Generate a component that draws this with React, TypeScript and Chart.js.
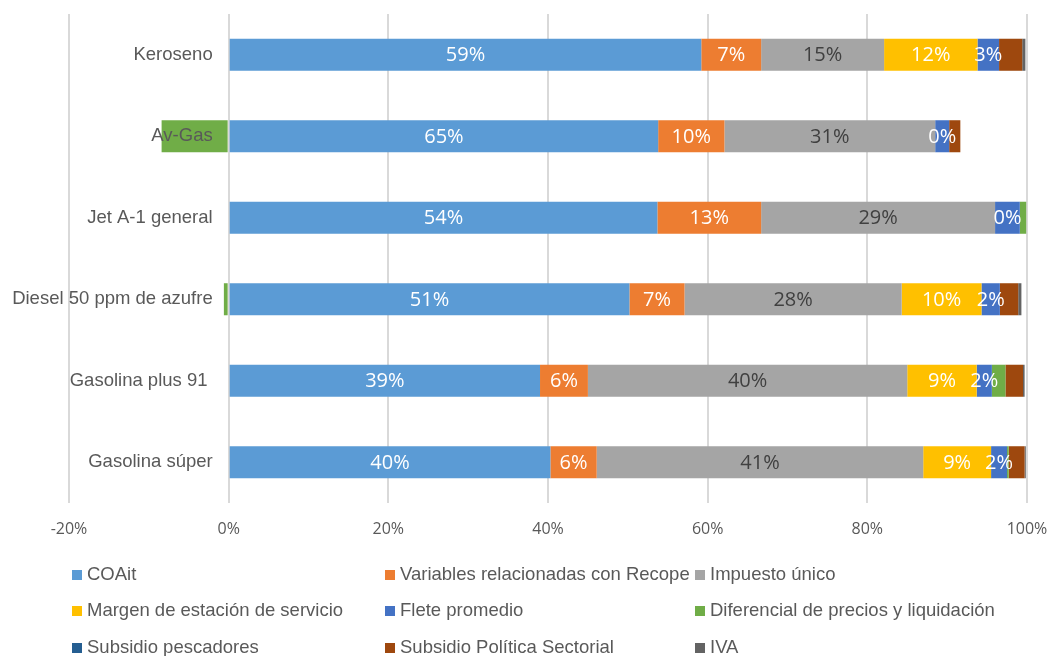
import React, { useEffect, useRef } from "react";
import { Chart, registerables } from "chart.js";

Chart.register(...registerables);

const categories = [
  "Keroseno",
  "Av-Gas",
  "Jet A-1 general",
  "Diesel 50 ppm de azufre",
  "Gasolina plus 91 ",
  "Gasolina súper",
];

const seriesNames = [
  "COAit",
  "Variables relacionadas con Recope",
  "Impuesto único",
  "Margen de estación de servicio",
  "Flete promedio",
  "Diferencial de precios y liquidación",
  "Subsidio pescadores",
  "Subsidio Política Sectorial",
  "IVA",
];

const seriesColors = [
  "#5B9BD5",
  "#ED7D31",
  "#A5A5A5",
  "#FFC000",
  "#4472C4",
  "#70AD47",
  "#255E91",
  "#9E480E",
  "#636363",
];

const coait = [59.2, 53.8, 53.7, 50.2, 39.0, 40.3];
const variablesRecope = [7.5, 8.3, 13.0, 6.9, 6.0, 5.8];
const impuestoUnico = [15.4, 26.4, 29.3, 27.2, 40.0, 40.9];
const margenEstacion = [11.7, 0, 0, 10.0, 8.7, 8.5];
const fletePromedio = [2.7, 1.75, 3.1, 2.3, 1.9, 2.0];
const diferencial = [0, -8.4, 0.8, -0.6, 1.7, 0.2];
const subsidioPescadores = [0, 0, 0, 0, 0, 0];
const subsidioSectorial = [2.9, 1.4, 0, 2.3, 2.2, 2.0];
const iva = [0.4, 0, 0, 0.4, 0.2, 0.15];

const coaitLabels = ["59%", "65%", "54%", "51%", "39%", "40%"];
const variablesLabels = ["7%", "10%", "13%", "7%", "6%", "6%"];
const impuestoLabels = ["15%", "31%", "29%", "28%", "40%", "41%"];
const margenLabels = ["12%", "", "", "10%", "9%", "9%"];
const fleteLabels = ["3%", "0%", "0%", "2%", "2%", "2%"];

const seriesValues = [
  coait,
  variablesRecope,
  impuestoUnico,
  margenEstacion,
  fletePromedio,
  diferencial,
  subsidioPescadores,
  subsidioSectorial,
  iva,
];

const seriesLabels = [coaitLabels, variablesLabels, impuestoLabels, margenLabels, fleteLabels];
const labelColors = ["#FFFFFF", "#FFFFFF", "#404040", "#FFFFFF", "#FFFFFF"];

const xTickMin = -20;
const xTickMax = 100;
const xTickStep = 20;

const TEXT_GREY = "#595959";
const AXIS_FONT = "'Liberation Sans', Arial, sans-serif";
const NUM_FONT = "'Open Sans', sans-serif";

const categoryLabelPlugin = {
  id: "categoryLabels",
  afterDatasetsDraw(chart: any) {
    const ctx = chart.ctx;
    const xs = chart.scales.x;
    const ys = chart.scales.y;
    const x0 = xs.getPixelForValue(0) - 16;
    ctx.save();
    ctx.font = `18.5px ${AXIS_FONT}`;
    ctx.fillStyle = TEXT_GREY;
    ctx.textAlign = "right";
    ctx.textBaseline = "middle";
    chart.data.labels.forEach((lab: string, i: number) => {
      ctx.fillText(lab, x0, ys.getPixelForValue(i));
    });
    ctx.restore();
  },
};

const dataLabelPlugin = {
  id: "dataLabels",
  afterDatasetsDraw(chart: any) {
    const ctx = chart.ctx;
    ctx.save();
    ctx.font = `20px ${NUM_FONT}`;
    ctx.textAlign = "center";
    ctx.textBaseline = "middle";
    seriesLabels.forEach((labs, di) => {
      const meta = chart.getDatasetMeta(di);
      meta.data.forEach((el: any, i: number) => {
        const t = labs[i];
        if (!t) return;
        const p = el.getProps(["x", "y", "base"], true);
        ctx.fillStyle = labelColors[di];
        ctx.fillText(t, (p.x + p.base) / 2, p.y + 1);
      });
    });
    ctx.restore();
  },
};

const gridLegendPlugin = {
  id: "gridLegend",
  afterDraw(chart: any) {
    const ctx = chart.ctx;
    const colX = [72, 385, 695];
    const rowY = [575, 611, 648];
    ctx.save();
    ctx.font = `18.5px ${AXIS_FONT}`;
    ctx.textAlign = "left";
    ctx.textBaseline = "middle";
    chart.data.datasets.forEach((ds: any, i: number) => {
      const cx = colX[i % 3];
      const cy = rowY[Math.floor(i / 3)];
      ctx.fillStyle = ds.backgroundColor;
      ctx.fillRect(cx, cy - 5, 10, 10);
      ctx.fillStyle = TEXT_GREY;
      ctx.fillText(ds.label, cx + 15, cy);
    });
    ctx.restore();
  },
};

export default function App() {
  const ref = useRef<HTMLCanvasElement | null>(null);

  useEffect(() => {
    if (!ref.current) return;
    const chart = new Chart(ref.current, {
      type: "bar",
      data: {
        labels: categories,
        datasets: seriesNames.map((name, i) => ({
          label: name,
          data: seriesValues[i],
          backgroundColor: seriesColors[i],
          borderWidth: 0,
          barPercentage: 0.393,
          categoryPercentage: 1,
        })),
      },
      options: {
        indexAxis: "y",
        animation: false,
        responsive: false,
        maintainAspectRatio: false,
        layout: { padding: { left: 69, right: 22, top: 14, bottom: 0 } },
        plugins: {
          legend: { display: false },
          tooltip: { enabled: false },
        },
        scales: {
          x: {
            stacked: true,
            min: xTickMin,
            max: xTickMax,
            ticks: {
              stepSize: xTickStep,
              padding: 17,
              color: TEXT_GREY,
              font: { family: NUM_FONT, size: 16 },
              callback: (v: any) => `${v}%`,
            },
            grid: { color: "#D9D9D9", lineWidth: 2, drawTicks: false },
            border: { display: false },
            afterFit: (scale: any) => {
              scale.height = 153;
              scale.paddingLeft = 0;
              scale.paddingRight = 0;
            },
          },
          y: {
            stacked: true,
            display: false,
          },
        },
      },
      plugins: [categoryLabelPlugin, dataLabelPlugin, gridLegendPlugin],
    });
    return () => chart.destroy();
  }, []);

  return (
    <div style={{ position: "fixed", left: 0, top: 0, width: 1049, height: 656, background: "#fff" }}>
      <canvas ref={ref} width={1049} height={656} style={{ display: "block" }} />
    </div>
  );
}
